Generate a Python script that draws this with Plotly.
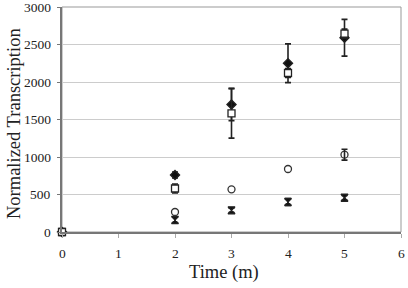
import plotly.graph_objects as go

time = [0, 2, 3, 4, 5]
diamond_vals = [0, 760, 1700, 2250, 2590]
diamond_err = [0, 40, 215, 258, 245]
square_vals = [0, 580, 1582, 2120, 2645]
square_err = [0, 60, 330, 60, 60]
circle_vals = [0, 267, 569, 840, 1031]
circle_err = [0, 0, 0, 0, 73]
bowtie_vals = [0, 160, 289, 400, 457]
bowtie_err = [0, 40, 30, 45, 30]
x_ticks = [0, 1, 2, 3, 4, 5, 6]
y_ticks = [0, 500, 1000, 1500, 2000, 2500, 3000]

fig = go.Figure()

def add(vals, err, symbol, fill, size):
    fig.add_trace(go.Scatter(
        x=time, y=vals, mode="markers",
        marker=dict(symbol=symbol, size=size, color=fill,
                    line=dict(color="#222", width=1.3)),
        error_y=dict(type="data", array=err, visible=err is not None, color="#222",
                     thickness=1.6, width=3),
        showlegend=False, cliponaxis=False))

add(bowtie_vals, bowtie_err, "hourglass", "#111", 7)
add(circle_vals, None, "circle-open", "#333", 7)
# error bars of the circle series, only where an error exists
idx = [i for i, e in enumerate(circle_err) if e > 0]
fig.add_trace(go.Scatter(
    x=[time[i] for i in idx], y=[circle_vals[i] for i in idx], mode="markers",
    marker=dict(size=1, opacity=0),
    error_y=dict(type="data", array=[circle_err[i] for i in idx], visible=True,
                 color="#222", thickness=1.6, width=3),
    showlegend=False, cliponaxis=False))
add(diamond_vals, diamond_err, "diamond", "#111", 7)
add(square_vals, square_err, "square", "white", 7)

tick_font = dict(family="Liberation Serif, Times New Roman, serif", size=13.5, color="#222")
title_font = dict(family="Liberation Serif, Times New Roman, serif", size=18.5, color="#222")

annotations = []
for v in x_ticks:
    annotations.append(dict(x=v, y=0, xref="x", yref="paper", text=str(v),
                            showarrow=False, yanchor="middle", xanchor="center",
                            yshift=-21, font=tick_font))
for v in y_ticks:
    annotations.append(dict(x=0, y=v, xref="paper", yref="y", text=str(v),
                            showarrow=False, xanchor="right", yanchor="middle",
                            xshift=-9, font=tick_font))
annotations.append(dict(x=0.478, y=0, xref="paper", yref="paper", text="Time (m)",
                        showarrow=False, xanchor="center", yanchor="middle",
                        yshift=-40, font=title_font))
annotations.append(dict(x=0, y=0.48, xref="paper", yref="paper",
                        text="Normalized Transcription", textangle=-90,
                        showarrow=False, xanchor="center", yanchor="middle",
                        xshift=-48, font=title_font))

fig.update_layout(
    width=408, height=288,
    margin=dict(l=62, r=7, t=7, b=56),
    paper_bgcolor="white", plot_bgcolor="white",
    font=dict(family="Liberation Serif, Times New Roman, serif", color="#222", size=13),
    xaxis=dict(range=[0, 6], tickmode="array", tickvals=x_ticks, showticklabels=False,
               showgrid=False,
               showline=True, linecolor="#777", linewidth=1.5,
               ticks="outside", ticklen=4, tickcolor="#aaa",
               automargin=False, zeroline=False),
    yaxis=dict(range=[0, 3000], tickmode="array", tickvals=y_ticks, showticklabels=False,
               showgrid=True, gridcolor="#ccc", gridwidth=1,
               showline=True, linecolor="#777", linewidth=1.5,
               ticks="outside", ticklen=3, tickcolor="#777",
               automargin=False, zeroline=False),
    annotations=annotations,
    shapes=[dict(type="rect", xref="paper", yref="paper", x0=0, y0=0, x1=1, y1=1,
                 line=dict(color="#999", width=1), layer="below")],
)

fig.write_html("out.html", config={"displayModeBar": False},
               post_script="document.body.style.margin='0';document.body.style.overflow='hidden';")
